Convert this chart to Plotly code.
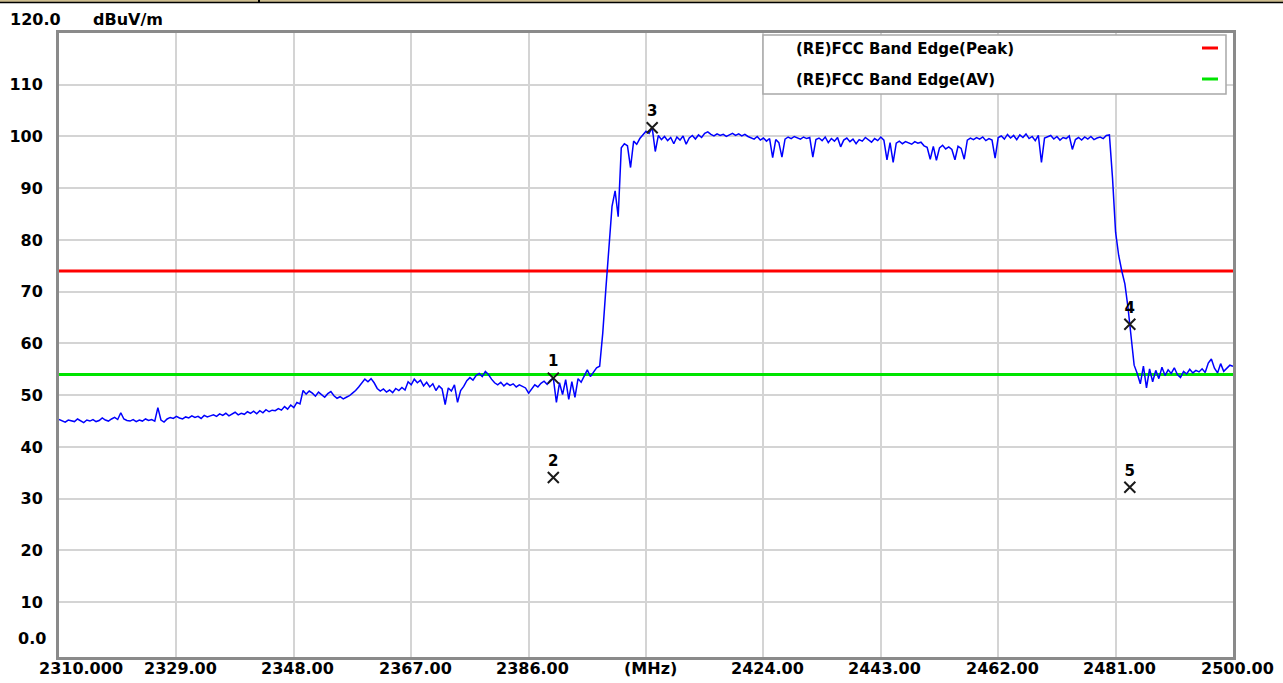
import plotly.graph_objects as go

# ---- sweep settings (MHz) ----
f_start = 2310.0
f_step = 0.5

# ---- measured field strength, dBuV/m, one value per sweep point ----
level_dbuv = [
    45.3, 45.0, 44.8, 45.2, 45.1, 44.9, 45.4, 45.0, 44.7, 45.2,
    45.0, 45.3, 44.9, 45.1, 45.6, 45.2, 45.0, 45.4, 45.7, 45.3,
    46.6, 45.4, 45.1, 45.0, 45.3, 44.9, 45.2, 45.0, 45.4, 45.1,
    45.3, 45.0, 47.6, 45.2, 44.8, 45.4, 45.7, 45.5, 45.9, 45.6,
    45.4, 45.8, 45.6, 46.0, 45.7, 45.9, 45.5, 46.1, 45.8, 46.0,
    46.2, 45.9, 46.4, 46.1, 46.5, 46.0, 46.3, 46.7, 46.2, 46.5,
    46.3, 46.8, 46.5, 46.9, 46.4, 47.0, 46.6, 47.2, 46.8, 47.1,
    47.0, 47.4, 47.1, 47.8, 47.3, 48.1, 47.6, 48.6, 48.3, 50.9,
    50.2, 50.8, 50.4, 49.8, 50.6, 50.1, 49.6, 50.3, 50.7, 49.9,
    49.4, 49.7, 49.3, 49.6, 49.9, 50.4, 50.9, 51.6, 52.4, 53.1,
    52.6, 53.2, 52.4, 51.3, 50.8, 51.2, 50.6, 51.0, 50.5, 51.3,
    50.9, 51.5, 51.0, 52.6, 52.0, 53.1, 52.4, 52.9, 51.8, 52.5,
    51.6, 52.2, 50.9, 51.8, 51.2, 48.2, 51.4, 50.8, 52.0, 48.6,
    50.9, 51.7, 52.8, 53.4, 52.9, 53.8, 54.2, 53.6, 54.6, 54.0,
    53.1, 52.4, 52.0, 52.5, 51.8, 52.3, 51.9, 52.2, 51.6, 52.0,
    51.7, 51.4, 50.4, 51.2, 52.0, 51.6, 52.3, 52.7, 52.1, 52.9,
    53.3, 48.6, 52.4, 50.1, 53.0, 49.2, 52.6, 49.6, 53.2, 52.5,
    53.8, 54.9, 53.6, 54.4, 55.3, 55.6, 62.0, 70.5, 79.0, 86.5,
    89.5, 84.5, 97.8, 98.6, 98.2, 94.0, 99.1, 98.5, 99.6, 100.4,
    101.0, 100.6, 101.7, 97.1, 100.2, 99.4, 100.0, 99.2, 99.8, 98.6,
    99.9, 99.3, 100.1, 98.5, 99.7, 100.2, 99.5, 100.3, 99.8, 100.6,
    100.9, 100.4, 100.1, 100.5, 100.2, 100.4, 100.0, 100.3, 100.6, 100.2,
    100.5, 100.1, 100.4, 100.0, 99.8, 99.5, 100.0, 99.3, 99.7, 99.1,
    99.6, 95.9, 99.4, 98.8, 96.0, 99.5, 99.9, 99.6, 100.0, 99.7,
    99.5, 99.9, 99.6, 99.8, 96.0, 99.4, 99.7, 99.2, 99.9, 98.8,
    99.6, 99.1, 99.8, 98.0, 99.3, 99.7, 99.0, 99.5, 98.6, 99.4,
    99.1, 99.8, 99.4, 98.9, 99.6, 99.2, 99.9, 99.3, 95.5, 98.8,
    95.0, 98.7, 99.1, 98.6, 99.0, 98.8, 98.5, 99.0, 98.7, 98.9,
    98.2, 97.9, 95.6, 98.1, 95.4, 97.8, 98.3, 97.6, 98.0, 97.5,
    95.5, 98.1, 97.7, 95.6, 99.3, 99.7, 99.4, 99.8, 99.5, 99.9,
    99.2, 99.6, 99.3, 95.8, 99.8, 100.1, 99.5, 100.4, 99.7, 100.2,
    99.4, 100.3, 99.8, 100.5, 99.6, 100.0, 99.2, 100.2, 95.0, 99.7,
    99.9, 100.2, 99.5, 100.0, 99.3, 99.8, 99.6, 100.1, 97.5, 99.4,
    99.8, 99.3, 99.9, 99.5, 100.0, 99.4, 99.7, 99.9, 99.6, 100.2,
    100.3, 92.0, 81.5, 77.0, 74.0, 71.5, 67.0, 61.0, 55.8, 54.2,
    52.2, 55.6, 51.4, 55.1, 52.6, 54.8, 53.2, 55.4, 53.8, 54.9,
    54.2, 55.3, 54.0, 53.4, 54.6, 54.1, 55.0, 54.3, 54.8, 54.5,
    55.1, 54.4, 56.2, 57.0, 55.2, 54.3, 56.1, 54.6, 55.3, 55.8,
    55.6,
]
freq_mhz = [f_start + i * f_step for i in range(len(level_dbuv))]

# ---- limit lines ----
limit_names = ["(RE)FCC Band Edge(Peak)", "(RE)FCC Band Edge(AV)"]
limit_levels = [74.0, 54.0]
limit_colors = ["#ff0000", "#00e400"]

# ---- markers ----
marker_labels = ["1", "2", "3", "4", "5"]
marker_freq = [2390.0, 2390.0, 2406.0, 2483.3, 2483.3]
marker_level = [53.3, 34.1, 101.7, 63.7, 32.2]

# ---- axes ----
x_min, x_max = 2310.0, 2500.0
y_min, y_max = -0.6, 120.0
x_tickvals = [2329, 2348, 2367, 2386, 2405, 2424, 2443, 2462, 2481, 2500]
x_ticktext = ["2329.00", "2348.00", "2367.00", "2386.00", "(MHz)",
              "2424.00", "2443.00", "2462.00", "2481.00", "2500.00"]
y_tickvals = [10, 20, 30, 40, 50, 60, 70, 80, 90, 100, 110]
y_ticktext = [str(v) for v in y_tickvals]

W, H = 1283, 683
ML, MR, MT, MB = 59, 50, 33, 26
PW, PH = W - ML - MR, H - MT - MB


def px(xp):
    return (xp - ML) / PW


def py(yp):
    return (H - MB - yp) / PH


FONT = "DejaVu Sans"
bold = dict(family=FONT, size=16, color="#000000", weight="bold")
fig = go.Figure()

for lvl, col in zip(limit_levels, limit_colors):
    fig.add_trace(go.Scatter(x=[x_min, x_max], y=[lvl, lvl], mode="lines",
                             line=dict(color=col, width=3), showlegend=False,
                             hoverinfo="skip"))

fig.add_trace(go.Scatter(x=freq_mhz, y=level_dbuv, mode="lines",
                         line=dict(color="#0000ff", width=1.5), showlegend=False))

fig.add_trace(go.Scatter(
    x=marker_freq, y=marker_level, mode="markers+text", text=marker_labels,
    textposition="top center",
    textfont=dict(family=FONT, size=15, color="#000000", weight="bold"),
    marker=dict(symbol="x-thin", size=11, line=dict(color="#1a1a1a", width=2)),
    showlegend=False, cliponaxis=False))

# x gridlines come from the axis; its labels are placed just under the frame
fig.update_xaxes(range=[x_min, x_max], tickvals=x_tickvals, showticklabels=False,
                 showgrid=True, gridcolor="#d4d4d4", gridwidth=2,
                 showline=True, mirror=True, linecolor="#8a8a8a", linewidth=3,
                 ticks="", zeroline=False, fixedrange=True, automargin=False)
fig.update_yaxes(range=[y_min, y_max], tickvals=y_tickvals, ticktext=y_ticktext,
                 showgrid=True, gridcolor="#d4d4d4", gridwidth=2,
                 showline=True, mirror=True, linecolor="#8a8a8a", linewidth=3,
                 ticks="outside", ticklen=10, tickcolor="rgba(0,0,0,0)",
                 tickfont=bold, zeroline=False, fixedrange=True, automargin=False)

annotations = [
    dict(text="120.0", xref="paper", yref="paper", x=px(63), y=py(19),
         xanchor="right", yanchor="middle", showarrow=False, font=bold),
    dict(text="dBuV/m", xref="paper", yref="paper", x=px(91), y=py(19),
         xanchor="left", yanchor="middle", showarrow=False, font=bold),
    dict(text="0.0", xref="paper", yref="paper", x=px(48), y=py(638),
         xanchor="right", yanchor="middle", showarrow=False, font=bold),
    dict(text="2310.000", xref="x", yref="paper", x=x_min, y=py(668),
         xanchor="center", yanchor="middle", xshift=22, showarrow=False, font=bold),
]
for tv, tt in zip(x_tickvals, x_ticktext):
    annotations.append(dict(text=tt, xref="x", yref="paper", x=tv, y=py(668),
                            xanchor="center", yanchor="middle", xshift=4,
                            showarrow=False, font=bold))

# legend box drawn in the upper right of the plot
shapes = [
    dict(type="rect", xref="paper", yref="paper", x0=px(763), x1=px(1226),
         y0=py(94), y1=py(35), fillcolor="#ffffff",
         line=dict(color="#a8a8a8", width=1.5), layer="above"),
]
legend_rows_y = [49, 80]
for name, col, yy in zip(limit_names, limit_colors, legend_rows_y):
    annotations.append(dict(text=name, xref="paper", yref="paper", x=px(794), y=py(yy),
                            xanchor="left", yanchor="middle", showarrow=False,
                            font=dict(family=FONT, size=15, color="#000000", weight="bold")))
    shapes.append(dict(type="line", xref="paper", yref="paper", x0=px(1202), x1=px(1218),
                       y0=py(yy - 1), y1=py(yy - 1), line=dict(color=col, width=3),
                       layer="above"))

# page header strip at the top edge
shapes.append(dict(type="rect", xref="paper", yref="paper", x0=px(0), x1=px(W),
                   y0=py(2), y1=py(0), fillcolor="#cdbd8f", line=dict(width=0)))
shapes.append(dict(type="line", xref="paper", yref="paper", x0=px(0), x1=px(W),
                   y0=py(2.5), y1=py(2.5), line=dict(color="#000000", width=1.5)))
shapes.append(dict(type="line", xref="paper", yref="paper", x0=px(259), x1=px(259),
                   y0=py(3), y1=py(0), line=dict(color="#000000", width=2)))

fig.update_layout(width=W, height=H, margin=dict(l=ML, r=MR, t=MT, b=MB),
                  paper_bgcolor="#ffffff", plot_bgcolor="#ffffff",
                  annotations=annotations, shapes=shapes, showlegend=False)

fig.write_html("out.html")
